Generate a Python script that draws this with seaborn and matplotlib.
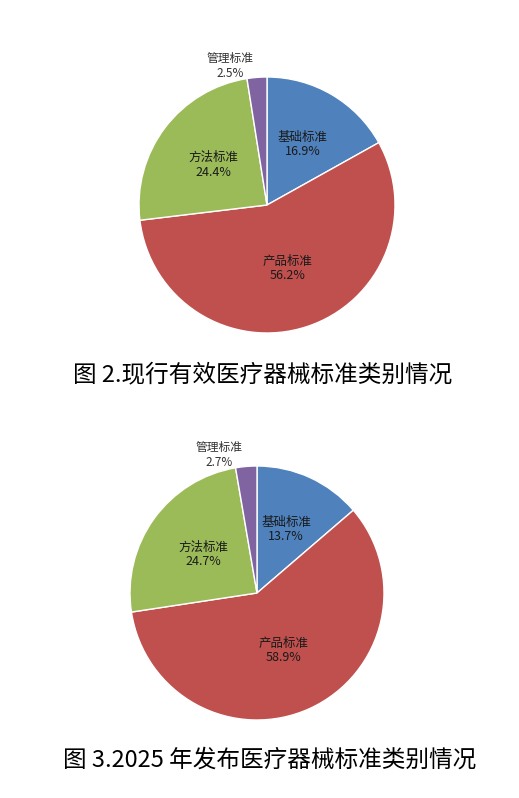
import numpy as np
import matplotlib
matplotlib.use("Agg")
import matplotlib.pyplot as plt
import seaborn as sns

sns.set_theme(style="white")
plt.rcParams['font.family'] = ['Noto Sans CJK SC', 'DejaVu Sans']

categories = ['基础标准', '产品标准', '方法标准', '管理标准']
share_current = [16.9, 56.2, 24.4, 2.5]
share_2025 = [13.7, 58.9, 24.7, 2.7]
captions = ['图 2.现行有效医疗器械标准类别情况', '图 3.2025 年发布医疗器械标准类别情况']

colors = ['#4F81BD', '#C0504D', '#9BBB59', '#8064A2']

W, H = 519, 798
fig = plt.figure(figsize=(W / 100, H / 100), dpi=100)
fig.patch.set_facecolor('white')


def draw_pie(values, cx, cy, r, inner_dist):
    ax = fig.add_axes([(cx - r) / W, 1 - (cy + r) / H, 2 * r / W, 2 * r / H])
    wedges, _ = ax.pie(values, colors=colors, startangle=90, counterclock=False,
                       radius=1, wedgeprops=dict(edgecolor='white', linewidth=1))
    ax.set_xlim(-1, 1)
    ax.set_ylim(-1, 1)
    ax.set_aspect('equal')
    ax.axis('off')
    for i, (w, name, v) in enumerate(zip(wedges, categories, values)):
        mid = np.deg2rad((w.theta1 + w.theta2) / 2)
        txt = f'{name}\n{v:.1f}%'
        if i == 3:
            # small slice: label sits above, left of the wedge
            x, y = 1.09 * np.cos(mid), 1.09 * np.sin(mid)
            ax.text(x - 0.02, y, txt, ha='right', va='center', multialignment='center',
                    fontsize=8.5, color='#333333', linespacing=1.15, clip_on=False)
        else:
            d = inner_dist[i]
            ax.text(d * np.cos(mid), d * np.sin(mid), txt, ha='center', va='center',
                    fontsize=9, color='#1a1a1a', linespacing=1.15)
    return ax


draw_pie(share_current, 267, 205, 128, [0.55, 0.52, 0.52])
draw_pie(share_2025, 257, 593, 127, [0.55, 0.5, 0.52])

fig.text(263 / W, 1 - 375 / H, captions[0], ha='center', va='center', fontsize=17, color='black')
fig.text(270 / W, 1 - 760 / H, captions[1], ha='center', va='center', fontsize=17, color='black')

fig.savefig('out.png', dpi=100)
